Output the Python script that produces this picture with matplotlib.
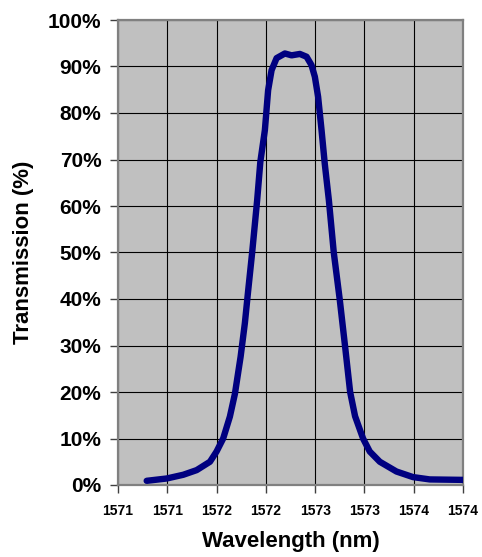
import matplotlib
matplotlib.use("Agg")
import matplotlib.pyplot as plt
from matplotlib.ticker import FixedLocator, FixedFormatter

plt.rcParams['font.family'] = ['Liberation Sans', 'DejaVu Sans']

wavelength = [1570.791, 1570.994, 1571.162, 1571.298, 1571.433, 1571.500, 1571.567,
              1571.635, 1571.686, 1571.744, 1571.787, 1571.821, 1571.861, 1571.912,
              1571.944, 1571.990, 1572.023, 1572.058, 1572.109, 1572.193, 1572.261,
              1572.345, 1572.413, 1572.463, 1572.497, 1572.530, 1572.565, 1572.598,
              1572.639, 1572.689, 1572.750, 1572.808, 1572.855, 1572.905, 1572.986,
              1573.054, 1573.156, 1573.325, 1573.493, 1573.662, 1574.000]
transmission = [0.9, 1.4, 2.2, 3.2, 5.0, 7.2, 10,
                14.7, 19.6, 27.6, 34.8, 41.9, 50, 61.3,
                69.5, 76.3, 84.9, 89.2, 91.8, 92.8, 92.4,
                92.7, 92.1, 90.3, 87.8, 83.5, 76.3, 69.0,
                61.3, 50, 39.8, 29, 20, 14.8, 10,
                7.2, 5.0, 2.9, 1.7, 1.2, 1.1]
x_ticks = [1570.5, 1571.0, 1571.5, 1572.0, 1572.5, 1573.0, 1573.5, 1574.0]
x_tick_labels = ["1571", "1571", "1572", "1572", "1573", "1573", "1574", "1574"]
y_ticks = [0, 10, 20, 30, 40, 50, 60, 70, 80, 90, 100]
y_tick_labels = [f"{v}%" for v in y_ticks]

fig = plt.figure(figsize=(4.82, 5.57), dpi=100)
ax = fig.add_axes([118/482, 1-485/557, (463-118)/482, (485-20)/557])
ax.set_facecolor('#C0C0C0')
ax.plot(wavelength, transmission, color='#000080', linewidth=4.6,
        solid_capstyle='round', solid_joinstyle='round', zorder=3)
ax.set_xlim(1570.5, 1574.0)
ax.set_ylim(0, 100)
ax.xaxis.set_major_locator(FixedLocator(x_ticks))
ax.xaxis.set_major_formatter(FixedFormatter(x_tick_labels))
ax.yaxis.set_major_locator(FixedLocator(y_ticks))
ax.yaxis.set_major_formatter(FixedFormatter(y_tick_labels))
ax.grid(True, color='black', linewidth=0.8, zorder=1)
ax.set_axisbelow(True)
for s in ax.spines.values():
    s.set_color('#808080')
    s.set_linewidth(1.6)
ax.tick_params(axis='y', direction='out', length=6, width=1, color='#404040',
               labelsize=15, pad=6)
ax.tick_params(axis='x', direction='out', length=6, width=1, color='#404040',
               labelsize=10, pad=8)
for lab in ax.get_xticklabels() + ax.get_yticklabels():
    lab.set_fontweight('bold')
ax.set_xlabel('Wavelength (nm)', fontsize=16, fontweight='bold', labelpad=9)
ax.set_ylabel('Transmission (%)', fontsize=16, fontweight='bold', labelpad=10)
fig.savefig('out.png', dpi=100)
